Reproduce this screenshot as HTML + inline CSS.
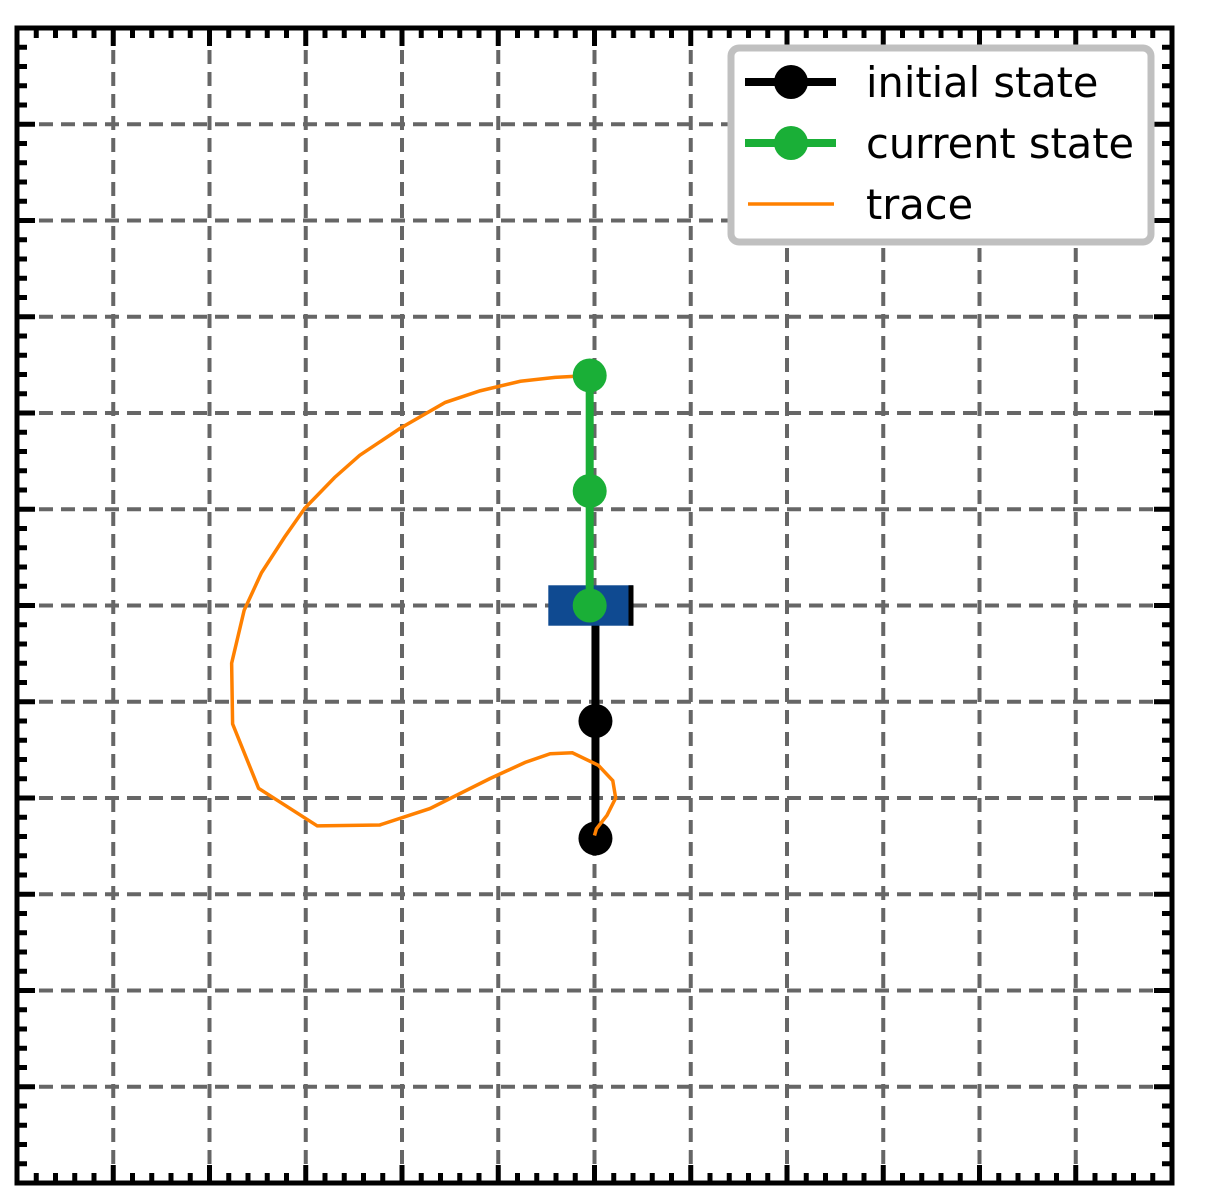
<!DOCTYPE html>
<html><head><meta charset="utf-8"><style>
html,body{margin:0;padding:0;background:#fff;width:1230px;height:1204px;overflow:hidden}
svg{display:block}
text{font-family:"DejaVu Sans","Liberation Sans",sans-serif}
</style></head><body>
<svg id="chart" width="1230" height="1204" viewBox="0 0 1230 1204">
<g id="grid"></g>
<g id="ticks"></g>
<g id="marks"></g>
<rect x="17" y="28" width="1155" height="1155" fill="none" stroke="#000" stroke-width="5"/>
<g>
<rect x="731" y="48" width="420" height="194" rx="8" fill="#fff" stroke="#c0c0c0" stroke-width="7"/>
<g>
<line x1="745" y1="82" x2="836" y2="82" stroke="#000" stroke-width="8"/>
<circle cx="791" cy="82" r="17" fill="#000"/>
<text x="866" y="97" font-size="41.5">initial state</text></g>
<g>
<line x1="745" y1="143" x2="836" y2="143" stroke="#1aaf37" stroke-width="8"/>
<circle cx="791" cy="143" r="17" fill="#1aaf37"/>
<text x="866" y="158" font-size="41.5">current state</text></g>
<g>
<line x1="748" y1="204" x2="834" y2="204" stroke="#ff8000" stroke-width="3.5"/>
<text x="866" y="219" font-size="41.5">trace</text></g>
</g>
</svg>
<script>
const xTicksMajor=[-6,-5,-4,-3,-2,-1,0,1,2,3,4,5,6];
const cart=[-0.48,0.4,-0.21,0.21];
const initX=[0.01,0.01,0.01];
const initY=[0,-1.2,-2.42];
const curX=[-0.05,-0.05,-0.05];
const curY=[0,1.19,2.39];
const traceX=[-0.05,-0.41,-0.77,-1.19,-1.55,-2.02,-2.44,-2.70,-3.01,-3.22,-3.46,-3.64,-3.77,-3.76,-3.49,-2.88,-2.23,-1.71,-1.09,-0.72,-0.46,-0.23,0.04,0.19,0.22,0.13,0.02,0.0];
const traceY=[2.39,2.37,2.33,2.23,2.11,1.84,1.56,1.33,1.01,0.71,0.34,-0.05,-0.60,-1.23,-1.90,-2.29,-2.28,-2.11,-1.80,-1.63,-1.54,-1.53,-1.66,-1.82,-2.00,-2.18,-2.32,-2.39];
const NS='http://www.w3.org/2000/svg';
const X=v=>594.5+v*96.25, Y=v=>605.5-v*96.25;
function mk(t,a,p){const e=document.createElementNS(NS,t);for(const k in a)e.setAttribute(k,a[k]);p.appendChild(e);return e;}
const grid=document.getElementById('grid'),ticks=document.getElementById('ticks'),marks=document.getElementById('marks');
xTicksMajor.forEach(v=>{
 if(v>-6&&v<6){
  const g1=mk('line',{x1:X(v),x2:X(v),y1:28,y2:1183,stroke:'#666','stroke-width':4,'stroke-dasharray':'14,8'},grid);
  
  
  const g2=mk('line',{y1:Y(v),y2:Y(v),x1:17,x2:1172,stroke:'#666','stroke-width':4,'stroke-dasharray':'14,8'},grid);
  
  
 }
 for(let m=0;m<5;m++){
  const u=v+m/5; if(u>6)break;
  const L=m===0?18:10;
  const st={stroke:'#000','stroke-width':5};
  mk('line',Object.assign({x1:X(u),x2:X(u),y1:28,y2:28+L},st),ticks);
  mk('line',Object.assign({x1:X(u),x2:X(u),y1:1183,y2:1183-L},st),ticks);
  mk('line',Object.assign({y1:Y(u),y2:Y(u),x1:17,x2:17+L},st),ticks);
  mk('line',Object.assign({y1:Y(u),y2:Y(u),x1:1172,x2:1172-L},st),ticks);
 }
});
function series(xs,ys,col,name){
 const l=mk('polyline',{points:xs.map((v,i)=>X(v)+','+Y(ys[i])).join(' '),fill:'none',stroke:col,'stroke-width':8},marks);
 
 
 xs.forEach((v,i)=>{const c=mk('circle',{cx:X(v),cy:Y(ys[i]),r:17,fill:col},marks);
  
  });
}
series(initX,initY,'#000','initial-state');
const tr=mk('polyline',{points:traceX.map((v,i)=>X(v)+','+Y(traceY[i])).join(' '),fill:'none',stroke:'#ff8000','stroke-width':3.5},marks);


const cr=mk('rect',{x:X(cart[0]),y:Y(cart[3]),width:X(cart[1])-X(cart[0]),height:Y(cart[2])-Y(cart[3]),fill:'#0f4a91'},marks);


const ce=mk('line',{x1:X(cart[1])-2,x2:X(cart[1])-2,y1:Y(cart[3]),y2:Y(cart[2]),stroke:'#000','stroke-width':5},marks);


series(curX,curY,'#1aaf37','current-state');
</script>
</body></html>
